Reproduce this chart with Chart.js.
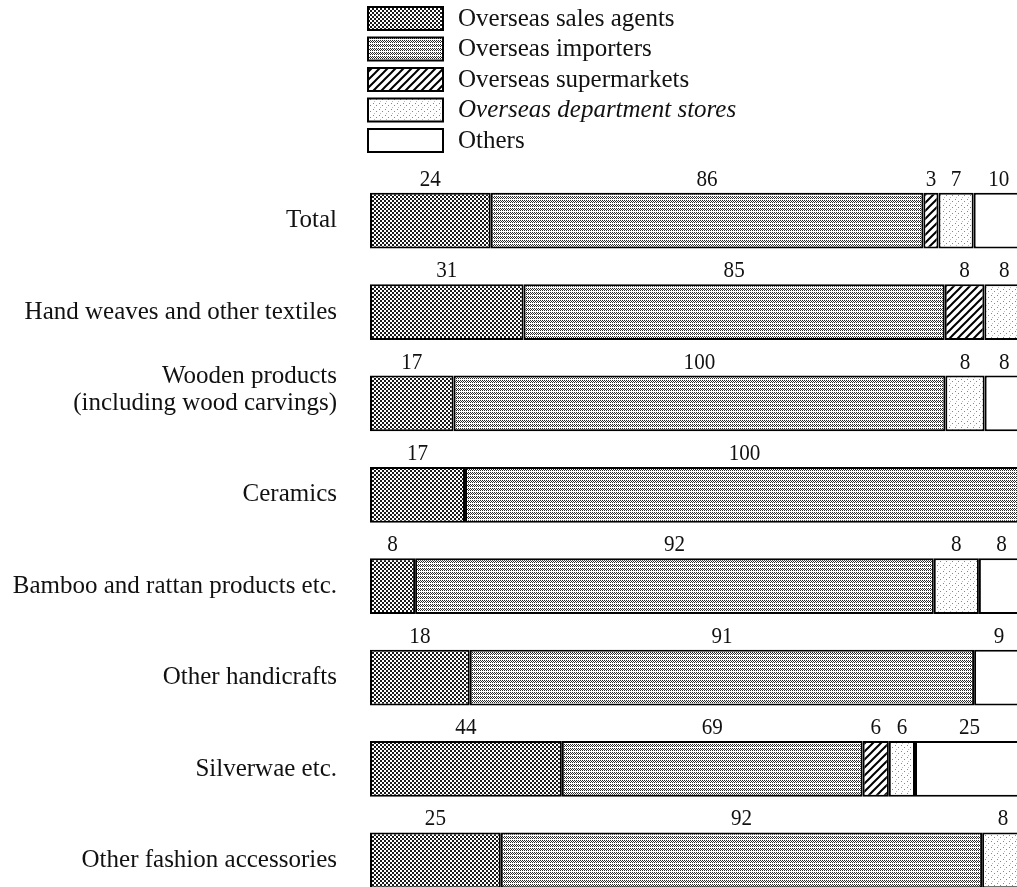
<!DOCTYPE html>
<html>
<head>
<meta charset="utf-8">
<script src="https://cdn.jsdelivr.net/npm/chart.js@4.4.1/dist/chart.umd.min.js"></script>
<style>
  html, body { margin: 0; padding: 0; background: #fff; overflow: hidden; width: 1017px; height: 887px; }
  #wrap { position: absolute; left: 0; top: 0; width: 1024px; height: 906px; }
</style>
</head>
<body>
<div id="wrap"><canvas id="c" width="1024" height="906"></canvas></div>
<script>
// Product groups (rows) and sales channels (stacked segments)
const categories = [
  'Total',
  'Hand weaves and other textiles',
  ['Wooden products', '(including wood carvings)', ''],
  'Ceramics',
  'Bamboo and rattan products etc.',
  'Other handicrafts',
  'Silverwae etc.',
  'Other fashion accessories'
];
const seriesNames = [
  'Overseas sales agents',
  'Overseas importers',
  'Overseas supermarkets',
  'Overseas department stores',
  'Others'
];

// Number of responses per channel, one value per product group
const salesAgents  = [24, 31, 17, 17,  8, 18, 44, 25];
const importers    = [86, 85, 100, 100, 92, 91, 69, 92];
const supermarkets = [ 3,  8,  0,  0,  0,  0,  6,  0];
const deptStores   = [ 7,  8,  8,  0,  8,  0,  6,  8];
const others       = [10,  0,  8,  0,  8,  9, 25,  0];

const seriesCounts = [salesAgents, importers, supermarkets, deptStores, others];

// Each row is drawn as a 100% bar: segment length = share of the row total
const rowTotals = categories.map((_, i) => seriesCounts.reduce((s, arr) => s + arr[i], 0));
const toShare = arr => arr.map((v, i) => v > 0 ? v / rowTotals[i] * 100 : null);

const canvas = document.getElementById('c');
const ctx = canvas.getContext('2d');

// Small tiles used as print-style fills
function makeTile(w, h, paint) {
  const t = document.createElement('canvas');
  t.width = w; t.height = h;
  const g = t.getContext('2d');
  g.fillStyle = '#fff';
  g.fillRect(0, 0, w, h);
  paint(g);
  return ctx.createPattern(t, 'repeat');
}
const darkScreen = makeTile(4, 4, g => {
  for (let y = 0; y < 4; y++) for (let x = 0; x < 4; x++) {
    if (((x >> 1) + (y >> 1)) % 2 === 0) { g.fillStyle = '#1a1a1a'; g.fillRect(x, y, 1, 1); }
  }
});
const lightScreen = makeTile(4, 4, g => {
  for (let y = 0; y < 4; y++) for (let x = 0; x < 4; x++) {
    if ((x + y) % 2 === 0 && y % 4 !== 3) { g.fillStyle = '#2a2a2a'; g.fillRect(x, y, 1, 1); }
  }
});
const hatch = makeTile(8, 8, g => {
  g.strokeStyle = '#000';
  g.lineWidth = 2;
  g.beginPath();
  g.moveTo(-2, 10); g.lineTo(10, -2);
  g.moveTo(-10, 10); g.lineTo(2, -2);
  g.moveTo(6, 10); g.lineTo(18, -2);
  g.stroke();
});
const speckle = makeTile(6, 6, g => {
  g.fillStyle = '#888';
  g.fillRect(1, 1, 1, 1);
  g.fillRect(4, 3, 1, 1);
  g.fillStyle = '#bbb';
  g.fillRect(2, 5, 1, 1);
});
const fills = [darkScreen, lightScreen, hatch, speckle, '#fff'];

const serif = '"Liberation Serif", "Times New Roman", serif';

// Count above each segment, centred on it (tall, slightly narrow figures)
const valueLabels = {
  id: 'valueLabels',
  afterDatasetsDraw(chart) {
    const c = chart.ctx;
    chart.data.datasets.forEach((ds, di) => {
      const meta = chart.getDatasetMeta(di);
      meta.data.forEach((el, i) => {
        const n = ds.counts[i];
        if (!n) return;
        const p = el.getProps(['x', 'y', 'base', 'height'], true);
        c.save();
        c.translate((p.x + p.base) / 2, p.y - p.height / 2 - 7);
        c.scale(0.88, 1);
        c.font = '24px ' + serif;
        c.fillStyle = '#111';
        c.textAlign = 'center';
        c.textBaseline = 'alphabetic';
        c.fillText(String(n), 0, 0);
        c.restore();
      });
    });
  }
};

// Stacked key in the top area
const keyBlock = {
  id: 'keyBlock',
  afterDraw(chart) {
    const c = chart.ctx;
    c.save();
    chart.data.datasets.forEach((ds, i) => {
      const top = 7 + i * 30.5;
      c.fillStyle = ds.backgroundColor;
      c.fillRect(368, top, 75, 23);
      c.strokeStyle = '#000';
      c.lineWidth = 2;
      c.strokeRect(368, top, 75, 23);
      c.fillStyle = '#111';
      c.font = (i === 3 ? 'italic ' : '') + '25px ' + serif;
      c.textAlign = 'left';
      c.textBaseline = 'middle';
      c.fillText(ds.label, 458, top + 12);
    });
    c.restore();
  }
};

new Chart(ctx, {
  type: 'bar',
  data: {
    labels: categories,
    datasets: seriesCounts.map((arr, i) => ({
      label: seriesNames[i],
      data: toShare(arr),
      counts: arr,
      backgroundColor: fills[i],
      borderColor: '#000',
      borderWidth: 2,
      borderSkipped: false,
      barPercentage: 0.61,
      categoryPercentage: 1
    }))
  },
  options: {
    indexAxis: 'y',
    responsive: false,
    devicePixelRatio: 1,
    animation: false,
    layout: { padding: { top: 175, left: 0, right: 0, bottom: 0 } },
    plugins: { legend: { display: false }, tooltip: { enabled: false } },
    scales: {
      x: { stacked: true, min: 0, max: 100, display: false },
      y: {
        stacked: true,
        grid: { display: false, drawTicks: false },
        border: { display: false },
        ticks: {
          color: '#111',
          padding: 33,
          font: { family: serif, size: 25, lineHeight: 1.1 }
        },
        afterFit(scale) {
          scale.width = 370;
          scale.paddingTop = 0;
          scale.paddingBottom = 0;
        }
      }
    }
  },
  plugins: [valueLabels, keyBlock]
});
</script>
</body>
</html>
